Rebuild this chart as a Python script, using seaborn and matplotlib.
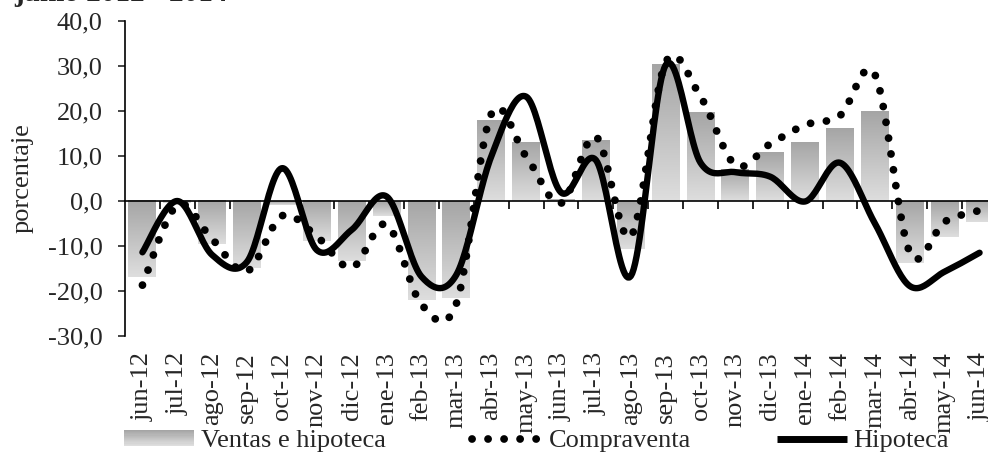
import numpy as np
import pandas as pd
import seaborn as sns
import matplotlib.pyplot as plt
from matplotlib.colors import LinearSegmentedColormap
from matplotlib.lines import Line2D
from matplotlib.patches import Rectangle
from matplotlib.ticker import FuncFormatter, FixedLocator, NullFormatter
from matplotlib.legend_handler import HandlerBase

months = ['jun-12', 'jul-12', 'ago-12', 'sep-12', 'oct-12', 'nov-12', 'dic-12',
          'ene-13', 'feb-13', 'mar-13', 'abr-13', 'may-13', 'jun-13', 'jul-13',
          'ago-13', 'sep-13', 'oct-13', 'nov-13', 'dic-13', 'ene-14', 'feb-14',
          'mar-14', 'abr-14', 'may-14', 'jun-14']
ventas = [-17.0, -0.5, -9.6, -15.0, -0.8, -8.9, -13.3, -3.3, -22.1, -21.5, 17.8,
          13.1, 0.3, 13.4, -10.7, 30.4, 19.6, 7.0, 10.7, 12.9, 16.2, 19.8, -13.7,
          -7.9, -4.7]
compraventa = [-18.7, -0.9, -8.5, -15.6, -3.3, -7.9, -14.8, -5.2, -23.0, -22.8,
               19.3, 9.9, -0.5, 14.3, -7.9, 30.8, 23.2, 8.0, 12.7, 16.9, 19.0,
               28.1, -11.4, -4.6, -2.1]
hipoteca = [-11.4, 0.0, -12.0, -13.5, 7.3, -10.9, -6.4, 1.0, -16.8, -16.4, 9.9,
            23.2, 1.9, 9.1, -16.7, 30.2, 8.5, 6.4, 5.4, -0.1, 8.5, -5.0, -18.9,
            -15.7, -11.5]

FONT = 'Liberation Serif'
FS = 19
bar_cmap = LinearSegmentedColormap.from_list('bars', ['#a5a5a5', '#dedede'])


def smooth(y, n=24):
    # Excel-like smoothed line: cubic Bezier through every point
    y = np.asarray(y, float)
    p = np.column_stack([np.arange(len(y), dtype=float), y])
    pad = np.vstack([p[0], p, p[-1]])
    t = np.linspace(0, 1, n, endpoint=False)[:, None]
    out = []
    for i in range(len(y) - 1):
        p0, p1, p2, p3 = pad[i], pad[i + 1], pad[i + 2], pad[i + 3]
        c1 = p1 + (p2 - p0) / 6
        c2 = p2 - (p3 - p1) / 6
        out.append((1 - t) ** 3 * p1 + 3 * (1 - t) ** 2 * t * c1
                   + 3 * (1 - t) * t ** 2 * c2 + t ** 3 * p2)
    out.append(p[-1:])
    out = np.vstack(out)
    return out[:, 0], out[:, 1]


class GradientHandler(HandlerBase):
    def create_artists(self, legend, orig_handle, xdescent, ydescent,
                       width, height, fontsize, trans):
        k = 14
        cols = bar_cmap(np.linspace(0, 1, k))
        arts = []
        for j, c in enumerate(cols):
            arts.append(Rectangle((-xdescent, -ydescent + height * (1 - (j + 1) / k)),
                                  width, height / k, facecolor=c, edgecolor='none',
                                  transform=trans))
        return arts


sns.set_style('white')
plt.rcParams['font.family'] = [FONT, 'DejaVu Serif']
plt.rcParams['font.size'] = FS

fig = plt.figure(figsize=(9.88, 4.58), dpi=100)
ax = fig.add_axes([125 / 988, 1 - 336 / 458, 872 / 988, 315 / 458])

df = pd.DataFrame({'mes': months, 'ventas': ventas})
sns.barplot(data=df, x='mes', y='ventas', color='#bfbfbf', width=0.8, ax=ax,
            saturation=1)

grad = np.linspace(0, 1, 256)[:, None]
for bar in list(ax.patches):
    x0, y0, w, h = bar.get_x(), bar.get_y(), bar.get_width(), bar.get_height()
    lo, hi = min(y0, y0 + h), max(y0, y0 + h)
    ax.imshow(grad, cmap=bar_cmap, aspect='auto', origin='upper',
              extent=(x0, x0 + w, lo, hi), zorder=1, interpolation='bilinear')
    bar.set_facecolor('none')
    bar.set_edgecolor('none')

DOTS = (0, (0.01, 2.05))
xs, ys = smooth(compraventa)
sns.lineplot(x=xs, y=ys, ax=ax, color='black', lw=5.6, estimator=None,
             linestyle=DOTS, dash_capstyle='round', zorder=3)
xs, ys = smooth(hipoteca)
sns.lineplot(x=xs, y=ys, ax=ax, color='black', lw=4.6, estimator=None,
             solid_capstyle='round', zorder=4)

ax.set_xlim(-0.5, len(months) - 0.5)
ax.set_ylim(-30, 40)
ax.set_yticks(np.arange(-30, 41, 10))
ax.yaxis.set_major_formatter(FuncFormatter(lambda v, p: f'{v:.1f}'.replace('.', ',')))
ax.tick_params(axis='y', direction='out', length=5, width=1.2, pad=11,
               labelsize=FS, left=True)
ax.set_xlabel('')
ax.set_ylabel('')

for s in ['top', 'right']:
    ax.spines[s].set_visible(False)
ax.spines['left'].set_linewidth(1.2)
ax.spines['left'].set_color('black')
ax.spines['bottom'].set_position(('data', 0))
ax.spines['bottom'].set_linewidth(1.2)
ax.spines['bottom'].set_color('black')
ax.spines['bottom'].set_zorder(2)

ax.xaxis.set_major_locator(FixedLocator(np.arange(len(months))))
ax.xaxis.set_major_formatter(NullFormatter())
ax.xaxis.set_minor_locator(FixedLocator(np.arange(len(months)) + 0.5))
ax.tick_params(axis='x', which='major', length=0, bottom=False)
ax.tick_params(axis='x', which='minor', direction='out', length=6, width=1.2,
               bottom=True, color='black')

sec = ax.secondary_xaxis('bottom')
sec.set_xticks(np.arange(len(months)), labels=months)
sec.tick_params(axis='x', length=0, pad=11.5, labelsize=FS, labelrotation=90)
sec.spines['bottom'].set_visible(False)

fig.text(23 / 988, 1 - 178.5 / 458, 'porcentaje', rotation=90, ha='center',
         va='center', fontsize=FS)
# title sits mostly above the canvas, as in the cropped original
fig.text(228 / 988, 1 - 1 / 458, 'junio 2012 - 2014', ha='right', va='baseline',
         fontsize=21, fontweight='bold')

handles = [Rectangle((0, 0), 1, 1),
           Line2D([], [], color='black', lw=5.6, linestyle=DOTS,
                  dash_capstyle='round'),
           Line2D([], [], color='black', lw=5, solid_capstyle='butt')]
labels = ['Ventas e hipoteca', 'Compraventa', 'Hipoteca']
fig.legend(handles, labels, loc='center', bbox_to_anchor=(0.543, 0.037), ncol=3,
           frameon=False, fontsize=FS, handlelength=2.65, handleheight=0.55,
           handletextpad=0.27, columnspacing=3.25, borderaxespad=0,
           handler_map={Rectangle: GradientHandler()})

fig.savefig('out.png', dpi=100)
